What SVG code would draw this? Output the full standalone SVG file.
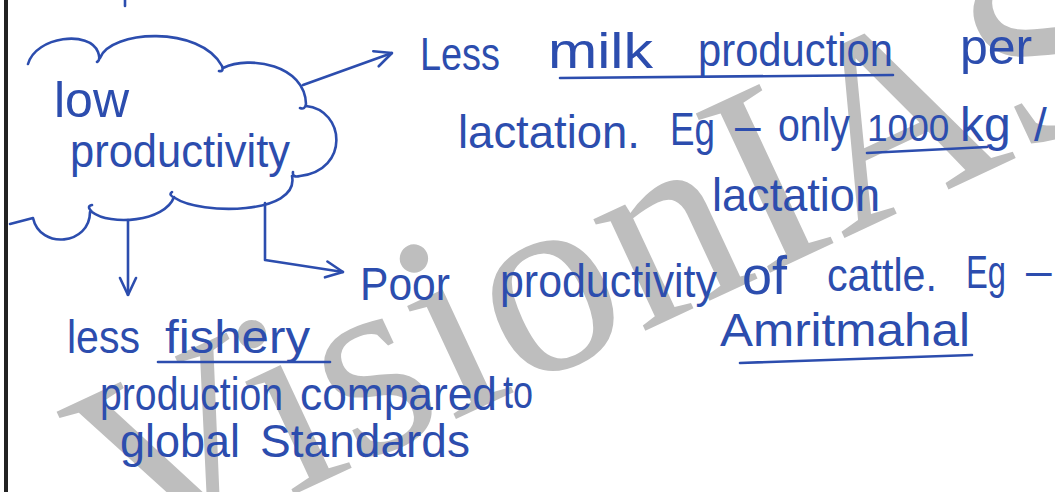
<svg xmlns="http://www.w3.org/2000/svg" width="1055" height="492" viewBox="0 0 1055 492">
<style>
.ink{fill:#2c4dae;font-family:"Liberation Sans",Arial,sans-serif;font-size:46px}
.ln{fill:none;stroke:#2c4dae;stroke-width:2.6;stroke-linecap:round;stroke-linejoin:round}
.wm{fill:#bebebe;font-family:"Liberation Serif","Times New Roman",serif;font-size:268px}
</style>
<defs>
<marker id="arrow" viewBox="0 0 20 20" refX="19" refY="10" markerWidth="20" markerHeight="20" markerUnits="userSpaceOnUse" orient="auto">
<path d="M2,2 L19,10 L2,18" fill="none" stroke="#2c4dae" stroke-width="2.6" stroke-linecap="round" stroke-linejoin="round"/>
</marker>
</defs>
<rect width="1055" height="492" fill="#ffffff"/>
<text class="wm" transform="translate(128 572) rotate(-25)">VisionIAS</text>
<line x1="6" y1="0" x2="6" y2="492" stroke="#222" stroke-width="4"/>
<line class="ln" x1="125" y1="0" x2="125" y2="6"/>

<g id="low-productivity">
<path class="ln" d="M28,64 C36,36 90,30 98,52 Q101,60 97,62 M100,58 C110,30 200,25 222,66 Q224,72 219,71 M223,68 C250,55 305,65 306,104 Q305,110 300,108 M306,106 C345,110 350,170 300,176 Q292,178 293,172 M292,176 C300,215 200,215 175,198 Q168,195 172,192 M174,197 C165,222 110,226 92,212 Q86,206 92,205 M90,212 C90,245 40,250 33,218 L10,224"/>
<text class="ink" x="54" y="117" style="font-size:50px">low</text>
<text class="ink" x="70" y="167" textLength="220" lengthAdjust="spacingAndGlyphs">productivity</text>
</g>

<g id="connectors">
<line class="ln" x1="303" y1="85" x2="392" y2="53" marker-end="url(#arrow)"/>
<line class="ln" x1="128" y1="220" x2="128" y2="295" marker-end="url(#arrow)"/>
<polyline class="ln" points="265,203 265,260 343,272" marker-end="url(#arrow)"/>
</g>

<g id="milk-production">
<text class="ink" x="420" y="70" textLength="80" lengthAdjust="spacingAndGlyphs">Less</text>
<text class="ink" x="548" y="68" style="font-size:50px" textLength="105" lengthAdjust="spacingAndGlyphs">milk</text>
<text class="ink" x="698" y="66" textLength="195" lengthAdjust="spacingAndGlyphs">production</text>
<text class="ink" x="960" y="64" style="font-size:50px">per</text>
<path class="ln" d="M560,78 L893,75"/>
<text class="ink" x="458" y="148" textLength="182" lengthAdjust="spacingAndGlyphs">lactation.</text>
<text class="ink" x="670" y="145" textLength="45" lengthAdjust="spacingAndGlyphs">Eg</text>
<text class="ink" x="735" y="141">–</text>
<text class="ink" x="778" y="141" textLength="72" lengthAdjust="spacingAndGlyphs">only</text>
<text class="ink" x="867" y="141" style="font-size:37px">1000</text>
<text class="ink" x="960" y="141" style="font-size:48px">kg</text>
<text class="ink" x="1034" y="141">/</text>
<path class="ln" d="M867,153 L987,147"/>
<text class="ink" x="712" y="211" textLength="168" lengthAdjust="spacingAndGlyphs">lactation</text>
</g>

<g id="cattle-productivity">
<text class="ink" x="360" y="300" textLength="90" lengthAdjust="spacingAndGlyphs">Poor</text>
<text class="ink" x="500" y="297" textLength="217" lengthAdjust="spacingAndGlyphs">productivity</text>
<text class="ink" x="742" y="294" style="font-size:54px">of</text>
<text class="ink" x="827" y="291" textLength="110" lengthAdjust="spacingAndGlyphs">cattle.</text>
<text class="ink" x="966" y="288" textLength="40" lengthAdjust="spacingAndGlyphs">Eg</text>
<text class="ink" x="1026" y="286">–</text>
<text class="ink" x="720" y="346" textLength="250" lengthAdjust="spacingAndGlyphs">Amritmahal</text>
<path class="ln" d="M740,363 L972,355"/>
</g>

<g id="fishery-production">
<text class="ink" x="67" y="353" textLength="73" lengthAdjust="spacingAndGlyphs">less</text>
<text class="ink" x="165" y="353" textLength="145" lengthAdjust="spacingAndGlyphs">fishery</text>
<path class="ln" d="M158,362 L330,362"/>
<text class="ink" x="100" y="410" textLength="183" lengthAdjust="spacingAndGlyphs">production</text>
<text class="ink" x="300" y="410" textLength="197" lengthAdjust="spacingAndGlyphs">compared</text>
<text class="ink" x="503" y="408" textLength="30" lengthAdjust="spacingAndGlyphs">to</text>
<text class="ink" x="120" y="457" textLength="120" lengthAdjust="spacingAndGlyphs">global</text>
<text class="ink" x="260" y="457" textLength="210" lengthAdjust="spacingAndGlyphs">Standards</text>
</g>
</svg>
